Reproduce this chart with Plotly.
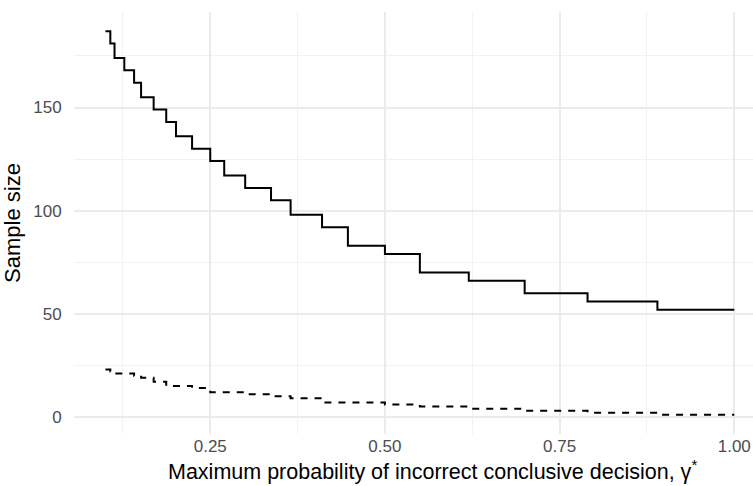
import plotly.graph_objects as go

# Step breakpoints (gamma*) and sample sizes
gamma = [0.10, 0.107, 0.113, 0.127, 0.141, 0.151, 0.169, 0.187, 0.201, 0.224,
         0.25, 0.27, 0.30, 0.337, 0.365, 0.41, 0.447, 0.50, 0.55, 0.62,
         0.70, 0.79, 0.89, 1.00]
max_n = [187, 181, 174, 168, 162, 155, 149, 143, 136, 130,
         124, 117, 111, 105, 98, 92, 83, 79, 70, 66,
         60, 56, 52, 52]
exp_n = [23, 22, 21, 21, 20, 19, 17, 15, 15, 14,
         12, 12, 11, 10, 9, 7, 7, 6, 5, 4,
         3, 2, 1, 1]

x_ticks = [0.25, 0.50, 0.75, 1.00]
x_ticktext = ["0.25", "0.50", "0.75", "1.00"]
y_ticks = [0, 50, 100, 150]
y_ticktext = ["0", "50", "100", "150"]
x_title = "Maximum probability of incorrect conclusive decision, γ<sup>*</sup>"
y_title = "Sample size"

fig = go.Figure()
fig.add_trace(go.Scatter(x=gamma, y=max_n, mode="lines", line_shape="hv",
                         line=dict(color="black", width=2), showlegend=False))
fig.add_trace(go.Scatter(x=gamma, y=exp_n, mode="lines", line_shape="hv",
                         line=dict(color="black", width=2, dash="7px,7px"),
                         showlegend=False))

px_per_unit = 698.7
x0 = 0.055
x1 = x0 + (753 - 74) / px_per_unit

fig.update_layout(
    width=753, height=486,
    margin=dict(l=74, r=0, t=12, b=52),
    plot_bgcolor="white", paper_bgcolor="white",
    font=dict(family="Liberation Sans, Arial, sans-serif"),
    xaxis=dict(
        range=[x0, x1], tickvals=x_ticks, ticktext=x_ticktext,
        showgrid=True, gridcolor="#EBEBEB", gridwidth=1.6, zeroline=False,
        showline=False, ticks="", 
        tickfont=dict(size=17, color="#4D4D4D"),
        minor=dict(tickvals=[0.125, 0.375, 0.625, 0.875], showgrid=True,
                   gridcolor="#F2F2F2", gridwidth=1),
    ),
    yaxis=dict(
        range=[-8.3, 196.3], tickvals=y_ticks, ticktext=y_ticktext,
        showgrid=True, gridcolor="#EBEBEB", gridwidth=1.6, zeroline=False,
        showline=False, ticks="outside", ticklen=8, tickcolor="rgba(0,0,0,0)",
        tickfont=dict(size=17, color="#4D4D4D"),
        minor=dict(tickvals=[25, 75, 125, 175], showgrid=True,
                   gridcolor="#F2F2F2", gridwidth=1),
        title=dict(text=y_title, font=dict(size=22, color="black"), standoff=6),
    ),
    annotations=[dict(
        text=x_title, xref="paper", yref="paper",
        x=(432 - 74) / 679, y=(434 - 486) / 422,
        xanchor="center", yanchor="bottom", showarrow=False,
        font=dict(size=21.5, color="black"),
    )],
)

fig.write_html("out.html")
